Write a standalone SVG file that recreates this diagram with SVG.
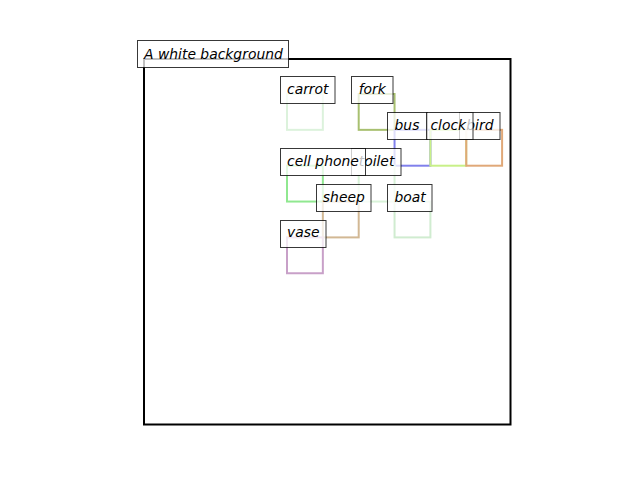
<svg xmlns="http://www.w3.org/2000/svg" width="640" height="480" viewBox="0 0 640 480">
<style>
.r{fill:none;stroke-width:2}
.b{fill:#fff;fill-opacity:0.75;stroke:#000;stroke-opacity:0.78;stroke-width:1}
.t{font-family:"DejaVu Sans",sans-serif;font-style:oblique;font-size:13.9px;fill:#000}
</style>
<rect x="0" y="0" width="640" height="480" fill="#fff"/>
<rect id="axes" x="144" y="59" width="366.5" height="365.5" fill="none" stroke="#000" stroke-width="2"/>
<g id="connectors">
<rect class="r" x="287" y="94" width="35.85" height="35.85" stroke="#dcf2dc"/>
<rect class="r" x="358.7" y="94" width="35.85" height="35.85" stroke="#a8c070"/>
<rect class="r" x="394.55" y="129.85" width="35.85" height="35.85" stroke="#8080ec"/>
<rect class="r" x="430.4" y="129.85" width="35.85" height="35.85" stroke="#c8f088"/>
<rect class="r" x="466.25" y="129.85" width="35.85" height="35.85" stroke="#e0a878"/>
<rect class="r" x="287" y="165.7" width="35.85" height="35.85" stroke="#90e890"/>
<rect class="r" x="358.7" y="165.7" width="35.85" height="35.85" stroke="#d8f2d8"/>
<rect class="r" x="322.85" y="201.55" width="35.85" height="35.85" stroke="#d2b894"/>
<rect class="r" x="394.55" y="201.55" width="35.85" height="35.85" stroke="#d0ecd0"/>
<rect class="r" x="287" y="237.4" width="35.85" height="35.85" stroke="#c8a0c8"/>
</g>
<g id="title"><rect class="b" x="137.5" y="40.5" width="151" height="27"/><text class="t" x="144" y="59">A white background</text></g>
<g id="carrot"><rect class="b" x="280.5" y="76.5" width="54.5" height="27"/><text class="t" x="287" y="94">carrot</text></g>
<g id="fork"><rect class="b" x="351.5" y="76.5" width="41.5" height="27"/><text class="t" x="358.7" y="94">fork</text></g>
<g id="bus"><rect class="b" x="387.5" y="112.5" width="40" height="27"/><text class="t" x="394.55" y="129.85">bus</text></g>
<g id="bird"><rect class="b" x="459.5" y="112.5" width="40.5" height="27"/><text class="t" x="466.25" y="129.85">bird</text></g>
<g id="clock"><rect class="b" x="426.5" y="112.5" width="46.5" height="27"/><text class="t" x="430.4" y="129.85">clock</text></g>
<g id="toilet"><rect class="b" x="351.5" y="148.5" width="49.5" height="27"/><text class="t" x="358.7" y="165.7">toilet</text></g>
<g id="cell-phone"><rect class="b" x="280.5" y="148.5" width="85" height="27"/><text class="t" x="287" y="165.7">cell phone</text></g>
<g id="sheep"><rect class="b" x="316.5" y="184.5" width="54.5" height="27"/><text class="t" x="322.85" y="201.55">sheep</text></g>
<g id="boat"><rect class="b" x="387.5" y="184.5" width="44.5" height="27"/><text class="t" x="394.55" y="201.55">boat</text></g>
<g id="vase"><rect class="b" x="280.5" y="220.5" width="45.5" height="27"/><text class="t" x="287" y="237.4">vase</text></g>
</svg>
